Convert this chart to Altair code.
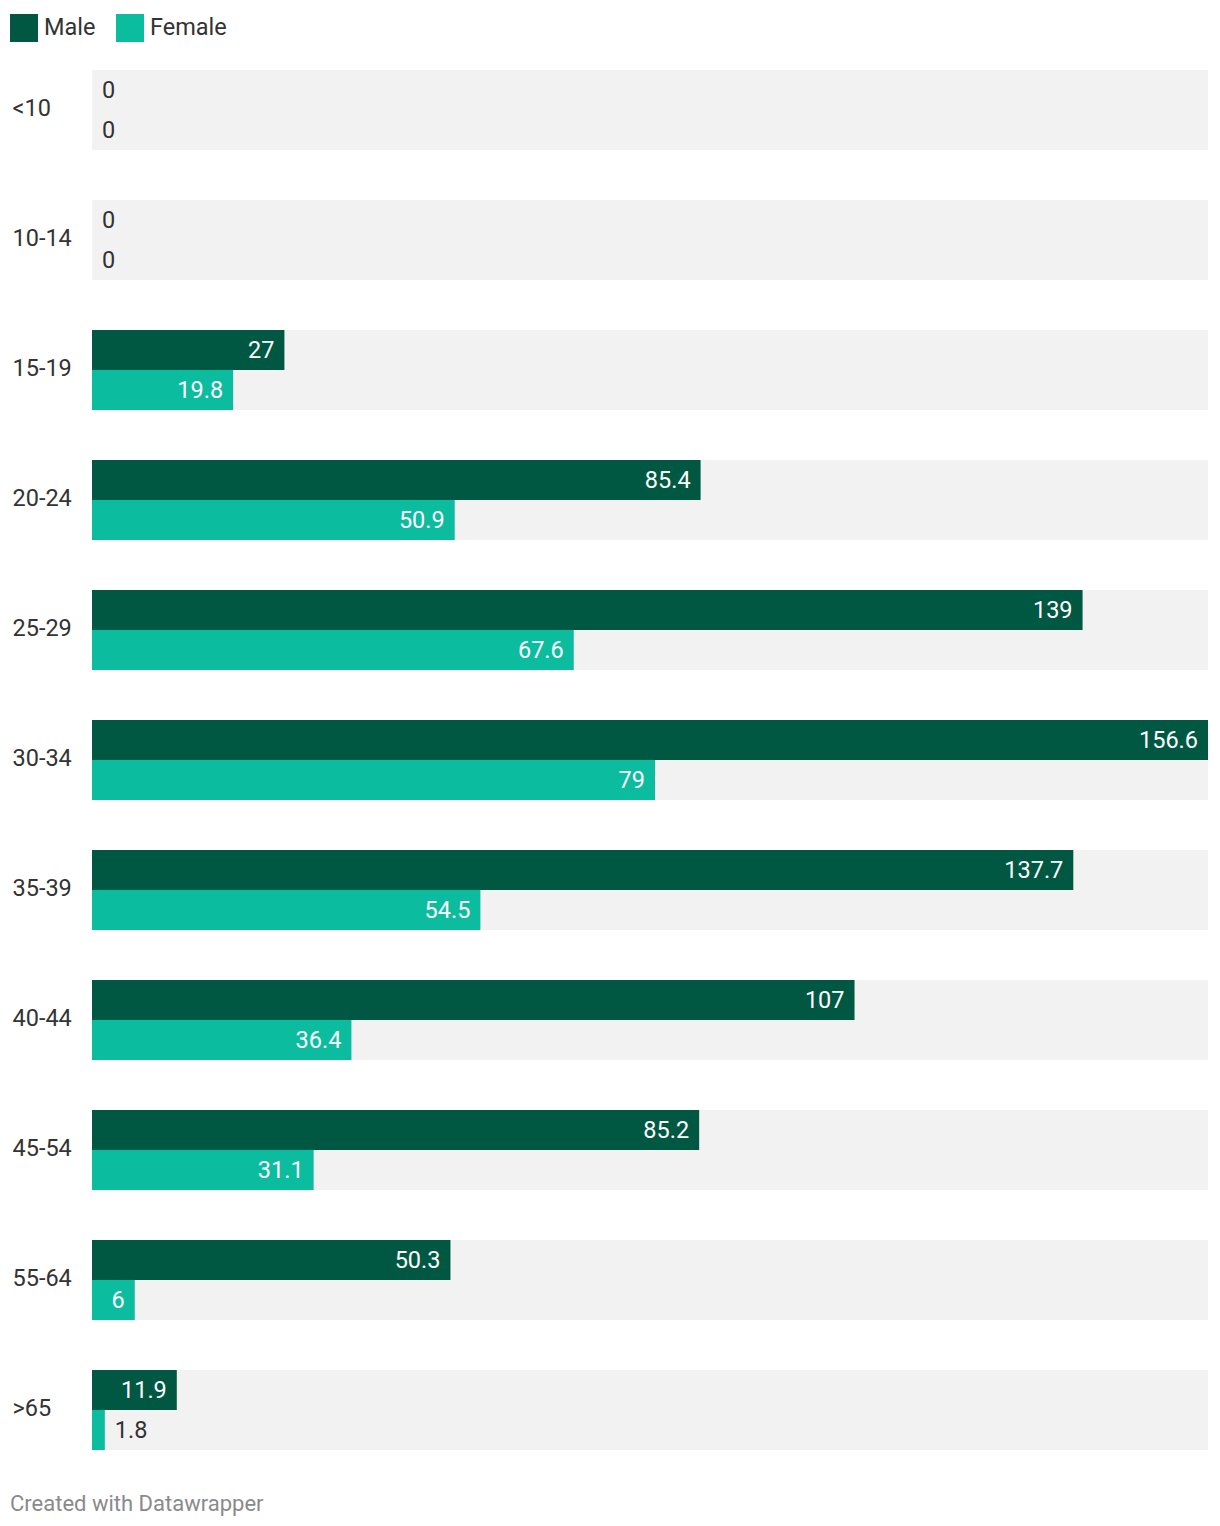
import altair as alt
import pandas as pd

ages = ["<10", "10-14", "15-19", "20-24", "25-29", "30-34", "35-39", "40-44", "45-54", "55-64", ">65"]
male = [0, 0, 27, 85.4, 139, 156.6, 137.7, 107, 85.2, 50.3, 11.9]
female = [0, 0, 19.8, 50.9, 67.6, 79, 54.5, 36.4, 31.1, 6, 1.8]
sexes = ["Male", "Female"]
colors = ["#005842", "#0bbc9f"]

xmax = max(male + female)

rows = []
for a, m, f in zip(ages, male, female):
    for s, v in (("Male", m), ("Female", f)):
        rows.append({"age": a, "sex": s, "value": v, "label": f"{v:g}",
                     "inside": v > 3, "bg": xmax})
df = pd.DataFrame(rows)

FONT = "Roboto"
FS = 23.5
W, H = 1116, 1380

yband = alt.Y("age:N", sort=ages, title=None,
              scale=alt.Scale(paddingInner=50 / 130, paddingOuter=0),
              axis=alt.Axis(domain=False, ticks=False, tickSize=0, labelPadding=80,
                            labelAlign="left", labelFontSize=FS, labelFont=FONT,
                            labelColor="#333333", grid=False, labelBaseline="middle",
                            labelOffset=-1))
yoff = alt.YOffset("sex:N", sort=sexes, scale=alt.Scale(paddingInner=0, paddingOuter=0))
xscale = alt.Scale(domain=[0, xmax], nice=False, zero=True)

base = alt.Chart(df)

bg = base.transform_filter(alt.datum.sex == "Male").mark_bar(color="#f2f2f2").encode(
    y=yband,
    x=alt.X("bg:Q", scale=xscale, axis=None),
)

bars = base.mark_bar().encode(
    y=yband,
    yOffset=yoff,
    x=alt.X("value:Q", scale=xscale, axis=None),
    color=alt.Color("sex:N", sort=sexes,
                    scale=alt.Scale(domain=sexes, range=colors),
                    legend=alt.Legend(title=None, orient="none", legendX=-82, legendY=-56,
                                      direction="horizontal", symbolType="square",
                                      symbolSize=784, symbolStrokeWidth=0,
                                      labelFontSize=FS, labelFont=FONT, labelColor="#333333",
                                      labelOffset=6, columnPadding=20)),
)

lab_in = base.transform_filter(alt.datum.inside).mark_text(
    align="right", baseline="middle", dx=-10, dy=1, fontSize=FS, font=FONT, color="white"
).encode(y=yband, yOffset=yoff, x=alt.X("value:Q", scale=xscale, axis=None), text="label:N")

lab_out = base.transform_filter(~alt.datum.inside).mark_text(
    align="left", baseline="middle", dx=10, dy=1, fontSize=FS, font=FONT, color="#333333"
).encode(y=yband, yOffset=yoff, x=alt.X("value:Q", scale=xscale, axis=None), text="label:N")

chart = alt.layer(bg, bars, lab_in, lab_out).properties(
    width=W, height=H,
    padding={"left": 2, "top": 6, "right": 0, "bottom": 5},
    title=alt.TitleParams("Created with Datawrapper", orient="bottom", anchor="start",
                          frame="bounds", fontSize=22, font=FONT, fontWeight="normal",
                          color="#8a8a8a", offset=44),
).configure_view(stroke=None)

chart.save("out.html", embed_options={"renderer": "svg", "actions": False})
